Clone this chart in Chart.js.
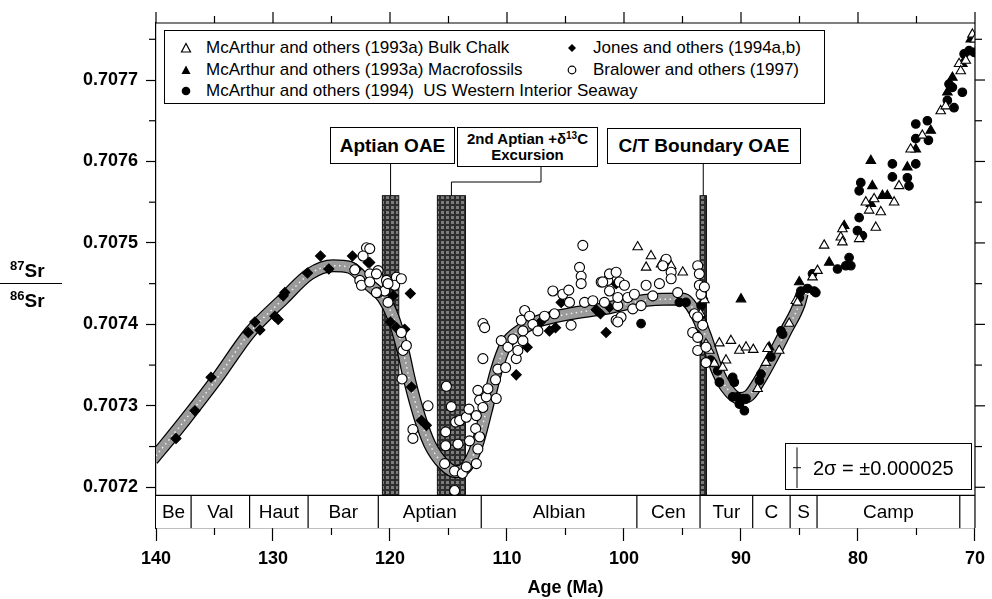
<!DOCTYPE html>
<html>
<head>
<meta charset="utf-8">
<script src="https://cdn.jsdelivr.net/npm/chart.js@4.4.1/dist/chart.umd.min.js"></script>
<style>
  body { margin: 0; background: #fff; }
  #wrap { position: relative; width: 992px; height: 599px; font-family: 'Liberation Sans', Arial, sans-serif; color: #000; }
  #wrap canvas { position: absolute; left: 0; top: 0; }
  .box { position: absolute; background: #fff; border: 1.5px solid #000; box-sizing: border-box; }
  .lab { display: flex; flex-direction: column; align-items: center; justify-content: center; font-weight: bold; text-align: center; }
  .row { position: absolute; font-size: 17px; line-height: 20px; white-space: nowrap; }
  .ico { position: absolute; }
  .ytitle { position: absolute; left: 10px; font-weight: bold; font-size: 19px; line-height: 22px; }
  .ytitle sup { font-size: 13px; vertical-align: 7px; line-height: 0; }
</style>
</head>
<body>
<div id="wrap">
  <canvas id="c" width="992" height="599"></canvas>

  <div class="ytitle" style="top:260px"><sup>87</sup>Sr</div>
  <div style="position:absolute;left:0;top:283px;width:62px;border-top:1.3px solid #000"></div>
  <div class="ytitle" style="top:290px"><sup>86</sup>Sr</div>

  <div class="box" style="left:164px;top:30px;width:661px;height:74px">
    <svg class="ico" style="left:15px;top:11px" width="12" height="12"><polygon points="6,1.5 10.5,10 1.5,10" fill="#fff" stroke="#000" stroke-width="1.2"/></svg>
    <div class="row" style="left:41px;top:7px">McArthur and others (1993a) Bulk Chalk</div>
    <svg class="ico" style="left:15px;top:33px" width="12" height="12"><polygon points="6,1.5 10.5,10 1.5,10" fill="#000"/></svg>
    <div class="row" style="left:41px;top:29px">McArthur and others (1993a) Macrofossils</div>
    <svg class="ico" style="left:15px;top:54px" width="12" height="12"><circle cx="6" cy="6" r="4.3" fill="#000"/></svg>
    <div class="row" style="left:41px;top:50px">McArthur and others (1994)&nbsp; US Western Interior Seaway</div>
    <svg class="ico" style="left:401px;top:11px" width="12" height="12"><polygon points="6,2 10,6 6,10 2,6" fill="#000"/></svg>
    <div class="row" style="left:428px;top:7px">Jones and others (1994a,b)</div>
    <svg class="ico" style="left:401px;top:33px" width="12" height="12"><circle cx="6" cy="6" r="3.8" fill="#fff" stroke="#000" stroke-width="1.2"/></svg>
    <div class="row" style="left:428px;top:29px">Bralower and others (1997)</div>
  </div>

  <div class="box lab" style="left:330px;top:127px;width:125px;height:37px;font-size:19px">Aptian OAE</div>
  <div class="box lab" style="left:457px;top:127px;width:141px;height:40px;font-size:15px;line-height:16px">
    <div>2nd Aptian +&delta;<sup style="font-size:10px;vertical-align:5px;line-height:0">13</sup>C</div>
    <div>Excursion</div>
  </div>
  <div class="box lab" style="left:607px;top:128px;width:194px;height:36px;font-size:19px">C/T Boundary OAE</div>

  <div class="box" style="left:785px;top:443px;width:187px;height:47px;background:transparent;border-width:1.2px">
    <div style="position:absolute;left:27px;top:12px;font-size:20px;line-height:24px;white-space:nowrap">2&sigma; = &plusmn;0.000025</div>
  </div>
</div>

<script>
// LOWESS fit band (centre line)
const bandAge = [140.3, 139.94, 137.67, 134.82, 131.98, 129.13, 126.85, 124.86, 123.44, 121.73, 120.6,
  119.74, 118.89, 118.32, 117.46, 116.61, 115.47, 114.33, 113.48, 112.62, 111.77, 110.92, 110.06,
  108.93, 107.5, 104.66, 101.82, 97.83, 94.99, 93.84, 92.99, 92.13, 91.28, 90.14, 89.29, 88.43,
  87.3, 86.16, 85.02, 84.77];
const bandSr = [0.707234, 0.70724, 0.70728, 0.707333, 0.70739, 0.707431, 0.707462, 0.707472, 0.70747,
  0.707448, 0.707433, 0.707409, 0.707368, 0.707331, 0.707286, 0.707253, 0.707229, 0.707219, 0.707225,
  0.707249, 0.707294, 0.707343, 0.707376, 0.707392, 0.707403, 0.707413, 0.707419, 0.70743, 0.707431,
  0.707413, 0.707384, 0.707347, 0.707323, 0.707309, 0.707313, 0.707331, 0.70736, 0.707392, 0.707425,
  0.707438];

const bulkAge = [98.83, 97.69, 98.11, 96.83, 95.97, 94.98, 93.27, 93.13, 93.46, 92.99, 92.7, 91.85,
  90.86, 90.14, 89.57, 88.95, 87.73, 92.28, 91.28, 91.57, 87.87, 88.58, 86.73, 85.88, 85.31, 85.17,
  83.89, 83.46, 82.89, 81.47, 81.33, 81.33, 79.9, 78.48, 78.05, 79.33, 79.05, 78.62, 76.91, 76.49,
  75.5, 74.5, 72.93, 72.5, 71.36, 71.22, 70.79, 70.22, 70.0];
const bulkSr = [0.707495, 0.707484, 0.70747, 0.707474, 0.707472, 0.707464, 0.707435, 0.70743, 0.707413,
  0.707376, 0.707368, 0.707377, 0.70738, 0.707368, 0.707372, 0.707369, 0.70737, 0.707352, 0.707356,
  0.707347, 0.707353, 0.707321, 0.707368, 0.707401, 0.707429, 0.707427, 0.707458, 0.707466, 0.707497,
  0.707507, 0.707501, 0.707517, 0.707505, 0.707519, 0.707538, 0.70755, 0.70754, 0.707554, 0.70755,
  0.70757, 0.707615, 0.707632, 0.707662, 0.707668, 0.70772, 0.707711, 0.707724, 0.707756, 0.70775];

const macroAge = [90.0, 85.02, 82.46, 81.18, 87.59, 78.9, 78.77, 77.91, 77.49, 78.9, 75.78, 75.06,
  73.78, 72.36, 71.93, 71.08, 70.36];
const macroSr = [0.707431, 0.707452, 0.707476, 0.707521, 0.707372, 0.707601, 0.70757, 0.707558,
  0.707558, 0.707548, 0.707593, 0.707615, 0.707638, 0.707685, 0.707703, 0.70772, 0.70775];

const wisAge = [98.54, 95.27, 94.7, 93.41, 93.84, 93.56, 92.6, 92.42, 91.85, 91.99, 90.71, 90.57, 90.71,
  90.3, 90.14, 89.71, 89.86, 89.57, 88.43, 88.29, 87.44, 86.44, 86.58, 85.02, 84.88, 84.31, 83.6,
  83.89, 83.75, 81.75, 81.04, 80.76, 80.61, 79.9, 80.05, 79.62, 79.9, 79.76, 77.06, 77.06, 75.06,
  75.06, 74.07, 73.98, 75.06, 75.78, 75.64, 72.22, 71.79, 72.36, 71.08, 71.93, 70.93, 70.08, 70.51];
const wisSr = [0.707401, 0.707427, 0.707427, 0.707423, 0.707388, 0.707409, 0.707356, 0.707353,
  0.707329, 0.707343, 0.707335, 0.707329, 0.707311, 0.707311, 0.707302, 0.707294, 0.707309, 0.707309,
  0.707331, 0.707339, 0.70736, 0.707388, 0.707392, 0.707433, 0.707441, 0.707444, 0.707439, 0.707462,
  0.707441, 0.707468, 0.707472, 0.707482, 0.707472, 0.707531, 0.707515, 0.707509, 0.707564, 0.707574,
  0.707597, 0.707581, 0.707646, 0.707628, 0.70765, 0.707626, 0.707597, 0.70758, 0.70757, 0.707695,
  0.707666, 0.707675, 0.707685, 0.707691, 0.707732, 0.707734, 0.707736];

const jonesAge = [138.29, 136.67, 135.3, 132.12, 131.55, 131.12, 129.84, 129.56, 129.13, 128.99, 127.05,
  125.94, 125.23, 123.21, 122.87, 121.87, 121.73, 119.74, 118.26, 119.96, 119.45, 118.74, 118.17,
  117.32, 116.89, 109.21, 108.27, 107.13, 106.37, 105.85, 105.37, 102.38, 102.01, 101.53, 101.24, 100.67];
const jonesSr = [0.70726, 0.707294, 0.707335, 0.70739, 0.707403, 0.707393, 0.70741, 0.707406, 0.707435,
  0.707439, 0.707463, 0.707484, 0.707468, 0.707484, 0.707468, 0.707476, 0.707476, 0.707435, 0.707438,
  0.707403, 0.707396, 0.707394, 0.707323, 0.707282, 0.707276, 0.707338, 0.707372, 0.707403, 0.707392,
  0.707396, 0.707427, 0.707418, 0.707413, 0.70739, 0.707421, 0.70745];

const bralAge = [122.01, 122.3, 123.01, 122.58, 122.44, 121.73, 121.73, 121.02, 121.02, 120.45, 120.3,
  120.17, 119.45, 119.6, 121.73, 121.16, 121.16, 120.17, 119.03, 119.03, 118.89, 118.6, 118.97, 116.75,
  118.04, 118.04, 115.18, 114.76, 114.39, 114.05, 115.24, 115.24, 114.19, 115.33, 114.48, 113.82,
  113.48, 114.48, 113.48, 113.25, 113.2, 112.62, 112.49, 112.68, 112.34, 112.62, 112.34, 112.49,
  112.06, 111.77, 111.63, 110.92, 110.98, 110.78, 110.12, 112.06, 112.06, 111.91, 110.49, 109.92,
  109.5, 109.21, 109.07, 108.64, 108.64, 108.78, 108.49, 108.07, 107.79, 107.36, 106.79, 106.08,
  105.94, 105.23, 104.72, 104.66, 104.52, 103.52, 103.8, 103.66, 103.66, 103.37, 102.66, 101.95,
  101.39, 101.24, 101.24, 100.67, 100.67, 100.53, 101.82, 100.39, 99.96, 100.53, 99.68, 99.11, 99.25,
  98.54, 100.25, 100.53, 101.67, 98.11, 97.54, 96.97, 96.4, 96.68, 95.97, 95.97, 95.41, 93.7, 93.56,
  93.56, 93.41, 93.13, 93.98, 93.7, 94.13, 93.7, 93.7, 93.27, 92.99, 92.99];
const bralSr = [0.707494, 0.707484, 0.707467, 0.707454, 0.707448, 0.707462, 0.707452, 0.707466,
  0.707439, 0.707441, 0.707454, 0.707427, 0.707458, 0.707448, 0.707493, 0.707462, 0.707439, 0.70745,
  0.707456, 0.70739, 0.707368, 0.707374, 0.707333, 0.7073, 0.707271, 0.70726, 0.707324, 0.707299,
  0.70728, 0.707282, 0.707268, 0.707251, 0.707253, 0.707229, 0.70722, 0.707217, 0.707225, 0.707196,
  0.707286, 0.707296, 0.707257, 0.707229, 0.707247, 0.707272, 0.707262, 0.707288, 0.707307, 0.707319,
  0.707298, 0.707311, 0.707321, 0.707309, 0.707332, 0.707345, 0.707347, 0.707358, 0.707401, 0.707396,
  0.70738, 0.707372, 0.707382, 0.707358, 0.707368, 0.70738, 0.707392, 0.707405, 0.707417, 0.70741,
  0.7074, 0.707392, 0.70741, 0.707441, 0.707413, 0.707437, 0.707442, 0.707427, 0.707399, 0.707497,
  0.70747, 0.707459, 0.70745, 0.707427, 0.707429, 0.707452, 0.707454, 0.707462, 0.707441, 0.707464,
  0.707405, 0.707423, 0.707452, 0.707452, 0.707448, 0.707433, 0.707433, 0.707437, 0.707419, 0.707423,
  0.707409, 0.707403, 0.707427, 0.707448, 0.707435, 0.70745, 0.70748, 0.707472, 0.707464, 0.707456,
  0.707439, 0.707472, 0.707462, 0.707448, 0.707437, 0.707446, 0.707413, 0.707409, 0.70739, 0.707384,
  0.707368, 0.707399, 0.707372, 0.707353];

// anoxic events (Ma) and stage boundaries (Ma)
const oaeStart = [120.65, 115.95, 93.5];
const oaeEnd = [119.25, 113.55, 92.95];
const oaeTop = 0.707558;
const stageNames = ['Be', 'Val', 'Haut', 'Bar', 'Aptian', 'Albian', 'Cen', 'Tur', 'C', 'S', 'Camp', ''];
const stageBase = [144.2, 137, 132, 127, 121, 112.2, 98.9, 93.5, 89, 85.8, 83.5, 71.3, 65];
const stageTop = 0.70719;

const xMinor = [135, 125, 115, 105, 95, 85, 75];
const yMajor = [0.7072, 0.7073, 0.7074, 0.7075, 0.7076, 0.7077];
const yMinor = [0.70725, 0.70735, 0.70745, 0.70755, 0.70765, 0.70775];
const sigma = 0.000025;
const sigmaMid = 0.707224;

Chart.defaults.font.family = "'Liberation Sans', Arial, sans-serif";
Chart.defaults.color = '#000';

const pts = (a, b) => a.map((v, i) => ({x: v, y: b[i]}));

function barPattern(ctx) {
  const c = document.createElement('canvas');
  c.width = 5; c.height = 5;
  const g = c.getContext('2d');
  g.fillStyle = '#2e2e2e'; g.fillRect(0, 0, 5, 5);
  g.fillStyle = '#7c7c7c'; g.fillRect(1, 1, 3, 3);
  return ctx.createPattern(c, 'repeat');
}

function line(ctx, x0, y0, x1, y1) {
  ctx.beginPath(); ctx.moveTo(x0, y0); ctx.lineTo(x1, y1); ctx.stroke();
}

const decor = {
  id: 'decor',
  beforeDatasetsDraw(chart) {
    const {ctx, scales: {x, y}} = chart;
    ctx.save();
    ctx.fillStyle = barPattern(ctx);
    ctx.strokeStyle = '#111';
    ctx.lineWidth = 1;
    for (let i = 0; i < oaeStart.length; i++) {
      const x0 = x.getPixelForValue(oaeStart[i]), x1 = x.getPixelForValue(oaeEnd[i]);
      const y0 = y.getPixelForValue(oaeTop), y1 = y.getPixelForValue(stageTop);
      ctx.fillRect(x0, y0, x1 - x0, y1 - y0);
      ctx.strokeRect(x0, y0, x1 - x0, y1 - y0);
    }
    ctx.restore();
  },
  afterDatasetsDraw(chart) {
    const {ctx, chartArea: a, scales: {x, y}} = chart;
    ctx.save();
    // stage strip
    const ys = y.getPixelForValue(stageTop);
    ctx.fillStyle = '#fff';
    ctx.fillRect(a.left, ys, a.right - a.left, a.bottom - ys);
    ctx.strokeStyle = '#000';
    ctx.lineWidth = 1.2;
    line(ctx, a.left, ys, a.right, ys);
    ctx.font = "19px 'Liberation Sans', Arial, sans-serif";
    ctx.fillStyle = '#000';
    ctx.textAlign = 'center';
    ctx.textBaseline = 'middle';
    for (let i = 0; i < stageNames.length; i++) {
      const lo = Math.min(stageBase[i], 140), hi = Math.max(stageBase[i + 1], 70);
      if (i > 0 && stageBase[i] < 140) {
        const px = x.getPixelForValue(stageBase[i]);
        line(ctx, px, ys, px, a.bottom);
      }
      const cx = x.getPixelForValue((lo + hi) / 2);
      ctx.fillText(stageNames[i], cx, (ys + a.bottom) / 2 + 1);
    }
    ctx.restore();
  },
  afterDraw(chart) {
    const {ctx, chartArea: a, scales: {x, y}} = chart;
    ctx.save();
    ctx.strokeStyle = '#000';
    ctx.lineWidth = 1.2;
    // frame
    line(ctx, a.left, a.top, a.right, a.top);
    line(ctx, a.right, a.top, a.right, a.bottom);
    // top and bottom ticks
    for (const t of x.ticks) {
      const px = x.getPixelForValue(t.value);
      line(ctx, px, a.top, px, a.top - 11);
    }
    for (const v of xMinor) {
      const px = x.getPixelForValue(v);
      line(ctx, px, a.top, px, a.top - 7);
      line(ctx, px, a.bottom, px, a.bottom + 7);
    }
    // left and right ticks
    for (const v of yMajor) {
      const py = y.getPixelForValue(v);
      line(ctx, a.right, py, a.right + 10, py);
    }
    for (const v of yMinor) {
      const py = y.getPixelForValue(v);
      line(ctx, a.left, py, a.left - 7, py);
      line(ctx, a.right, py, a.right + 7, py);
    }
    // connectors from labels to the shaded bars
    const top = y.getPixelForValue(oaeTop);
    const c0 = x.getPixelForValue((oaeStart[0] + oaeEnd[0]) / 2);
    const c1 = x.getPixelForValue((oaeStart[1] + oaeEnd[1]) / 2);
    const c2 = x.getPixelForValue((oaeStart[2] + oaeEnd[2]) / 2);
    ctx.lineWidth = 1;
    line(ctx, c0, 164, c0, top);
    line(ctx, c2, 164, c2, top);
    ctx.beginPath();
    ctx.moveTo(c1, top); ctx.lineTo(c1, 182); ctx.lineTo(541, 182); ctx.lineTo(541, 167);
    ctx.stroke();
    // 2 sigma bar
    const sx = 797;
    const sy0 = y.getPixelForValue(sigmaMid + sigma), sy1 = y.getPixelForValue(sigmaMid - sigma);
    line(ctx, sx, sy0, sx, sy1);
    line(ctx, sx - 4, (sy0 + sy1) / 2, sx + 4, (sy0 + sy1) / 2);
    ctx.restore();
  }
};

const ptStyle = (style, r, fill) => ({
  pointStyle: style, pointRadius: r, backgroundColor: fill, borderColor: '#000', borderWidth: 1.1
});

new Chart(document.getElementById('c'), {
  type: 'scatter',
  data: {
    datasets: [
      Object.assign({label: 'Bralower and others (1997)', data: pts(bralAge, bralSr), order: 2}, ptStyle('circle', 5, '#fff')),
      Object.assign({label: 'Jones and others (1994a,b)', data: pts(jonesAge, jonesSr), order: 3}, ptStyle('rectRot', 5, '#000')),
      Object.assign({label: 'McArthur and others (1993a) Bulk Chalk', data: pts(bulkAge, bulkSr), order: 4}, ptStyle('triangle', 5.5, '#fff')),
      Object.assign({label: 'McArthur and others (1993a) Macrofossils', data: pts(macroAge, macroSr), order: 5}, ptStyle('triangle', 5.5, '#000')),
      Object.assign({label: 'McArthur and others (1994) US Western Interior Seaway', data: pts(wisAge, wisSr), order: 6}, ptStyle('circle', 4.3, '#000')),
      {label: 'fit speckle', data: pts(bandAge, bandSr), showLine: true, pointRadius: 0, borderColor: 'rgba(255,255,255,0.85)',
        borderWidth: 1.5, borderDash: [1.5, 3.5], cubicInterpolationMode: 'monotone', order: 28},
      {label: 'fit', data: pts(bandAge, bandSr), showLine: true, pointRadius: 0, borderColor: '#9a9a9a',
        borderWidth: 10.5, cubicInterpolationMode: 'monotone', order: 29},
      {label: 'fit edge', data: pts(bandAge, bandSr), showLine: true, pointRadius: 0, borderColor: '#000',
        borderWidth: 13, cubicInterpolationMode: 'monotone', order: 30}
    ]
  },
  options: {
    responsive: false,
    animation: false,
    events: [],
    layout: {padding: {top: 23, right: 15, left: 0, bottom: 0}},
    plugins: {legend: {display: false}, tooltip: {enabled: false}},
    scales: {
      x: {
        type: 'linear', reverse: true, min: 70, max: 140,
        afterFit(s) { s.height = 71; },
        ticks: {stepSize: 10, font: {size: 18, weight: 'bold'}, color: '#000', padding: 7, callback: v => String(v)},
        grid: {drawOnChartArea: false, tickLength: 13, color: '#000', tickColor: '#000', tickWidth: 1.2},
        border: {display: true, color: '#000', width: 1.2},
        title: {display: true, text: 'Age (Ma)', font: {size: 18, weight: 'bold'}, color: '#000', padding: {top: 0, bottom: 0}}
      },
      y: {
        type: 'linear', min: 0.70715, max: 0.70777,
        afterFit(s) { s.width = 156; },
        afterBuildTicks(s) { s.ticks = yMajor.map(v => ({value: v})); },
        ticks: {font: {size: 18, weight: 'bold'}, color: '#000', padding: 8, callback: v => v.toFixed(4)},
        grid: {drawOnChartArea: false, tickLength: 10, color: '#000', tickColor: '#000', tickWidth: 1.2},
        border: {display: true, color: '#000', width: 1.2}
      }
    }
  },
  plugins: [decor]
});
</script>
</body>
</html>
